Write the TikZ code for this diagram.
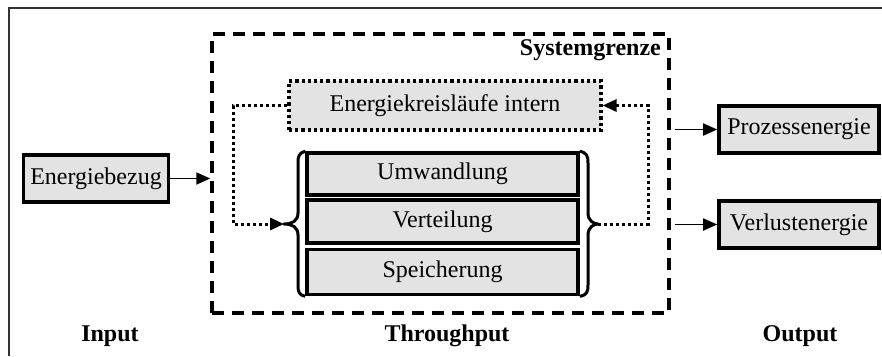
\documentclass[tikz,border=0pt]{standalone}
\usepackage{fontspec}
\setmainfont{Liberation Serif}
\usetikzlibrary{arrows.meta}
\begin{document}
\begin{tikzpicture}[x=1pt,y=-1pt,
  every node/.style={font=\fontsize{24}{28}\selectfont, inner sep=0pt},
  grbox/.style={draw, line width=3.6pt, fill=gray!22, rectangle},
  stackbox/.style={grbox, minimum width=271pt},
  sysbox/.style={draw, line width=3.4pt, dash pattern=on 12pt off 8pt},
  dotbox/.style={draw, line width=3.2pt, dash pattern=on 3.2pt off 3pt, fill=gray!22},
  dotline/.style={line width=3pt, dash pattern=on 3pt off 3pt, -{Triangle[length=14pt,width=12pt]}},
  flow/.style={line width=1.8pt, -{Triangle[length=14pt,width=12pt]}},
  brace/.style={line width=3pt, line join=round},
  lbl/.style={font=\fontsize{24}{28}\selectfont\bfseries}
]
\useasboundingbox (0,0) rectangle (882,356);
% frame
\draw[line width=1.6pt, black!80] (9,356) -- (9,8) -- (882,8);

% system boundary
\node[sysbox, minimum width=457pt, minimum height=279pt] (sys) at (440.5,173.5) {};
\node[lbl, anchor=east] (sg) at (661,50) {Systemgrenze};

% internal loops
\node[dotbox, minimum width=312pt, minimum height=49pt] (kreis) at (445,105.5) {Energiekreisläufe intern};

% stack
\node[stackbox, minimum height=42pt] (umw) at (442.5,174) {Umwandlung};
\node[stackbox, minimum height=43pt] (vert) at (442.5,221.5) {Verteilung};
\node[stackbox, minimum height=45pt] (spe) at (442.5,272) {Speicherung};

% braces
\coordinate (lb) at (284,224);
\coordinate (rb) at (598,224);
\draw[brace] (umw.north west) .. controls (299,153) and (298,156) .. (298,163)
  -- (298,213) .. controls (298,221) and (292,224) .. (lb)
  .. controls (292,224) and (298,227) .. (298,235)
  -- (298,285) .. controls (298,292) and (299,295) .. (spe.south west);
\draw[brace] (umw.north east) .. controls (587,153) and (588,156) .. (588,163)
  -- (588,213) .. controls (588,221) and (594,224) .. (rb)
  .. controls (594,224) and (588,227) .. (588,235)
  -- (588,285) .. controls (588,292) and (587,295) .. (spe.south east);

% dotted loop arrows
\draw[dotline] (kreis.west) -- ++(-54,0) |- (lb);
\draw[dotline] (rb) -- (648,224) |- (kreis.east);

% input / output boxes
\node[grbox, minimum width=145pt, minimum height=47pt] (bez) at (96,178.5) {Energiebezug};
\node[grbox, minimum width=160pt, minimum height=47pt] (proz) at (799,129.5) {Prozessenergie};
\node[grbox, minimum width=160pt, minimum height=47pt] (verl) at (799,224.5) {Verlustenergie};

\draw[flow] (bez.east) -- (bez.east -| sys.west);
\draw[flow, shorten <=4pt] (proz.west -| sys.east) -- (proz.west);
\draw[flow, shorten <=4pt] (verl.west -| sys.east) -- (verl.west);

% column labels
\node[lbl] (in) at (110,336) {Input};
\node[lbl] (thr) at (447,336) {Throughput};
\node[lbl] (out) at (800,336) {Output};
\end{tikzpicture}
\end{document}
